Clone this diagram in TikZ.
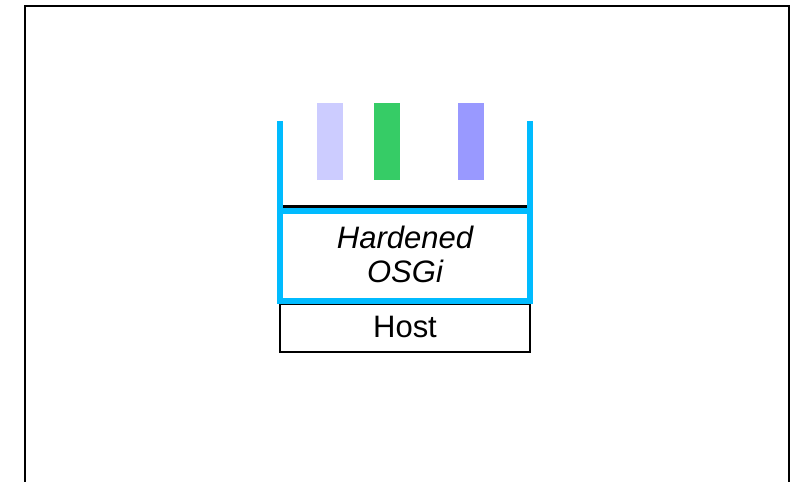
\documentclass[tikz,border=0pt]{standalone}
\usepackage{fontspec}
\setmainfont{Liberation Sans}
\definecolor{frameblue}{RGB}{0,187,255}
\definecolor{barlight}{RGB}{204,204,255}
\definecolor{bargreen}{RGB}{54,204,102}
\definecolor{barviolet}{RGB}{153,153,255}
\tikzset{
  bundle/.style={draw=none, fill=#1, minimum width=26pt, minimum height=77pt, inner sep=0pt},
  layerbox/.style={draw=black, line width=1.8pt, minimum width=250pt, minimum height=48pt, inner sep=0pt},
  bigtext/.style={font=\fontsize{31}{34}\selectfont, inner sep=0pt, align=center},
}
\begin{document}
\begin{tikzpicture}[x=1pt, y=-1pt]
  \useasboundingbox (0,0) rectangle (796,482);
  % outer frame, open at the bottom
  \coordinate (fbl) at (25,482);
  \coordinate (ftl) at (25,6);
  \coordinate (ftr) at (789,6);
  \coordinate (fbr) at (789,482);
  \draw[line width=2pt, line join=miter] (fbl) -- (ftl) -- (ftr) -- (fbr);

  % bundles
  \node[bundle=barlight]  (b1) at (330,141.5) {};
  \node[bundle=bargreen]  (b2) at (387,141.5) {};
  \node[bundle=barviolet] (b3) at (471,141.5) {};

  % host layer
  \node[layerbox] (host) at (405,328) {};
  \node[bigtext] (hosttxt) at (405,327) {Host};

  % top of the framework layer
  \coordinate (tl) at (283,206.5);
  \coordinate (tr) at (527,206.5);
  \draw[line width=2.5pt] (tl) -- (tr);

  % hardened OSGi layer with its raised sides
  \coordinate (lt) at (280,121);
  \coordinate (lb) at (280,300.5);
  \coordinate (rt) at (530,121);
  \coordinate (rb) at (530,300.5);
  \coordinate (li) at (280,211);
  \coordinate (ri) at (530,211);
  \draw[frameblue, line width=6pt] (lt) -- (lb) -- (rb) -- (rt);
  \draw[frameblue, line width=6pt] (li) -- (ri);
  \node[bigtext] (osgi) at (405,254) {\itshape Hardened\\\itshape OSGi};
\end{tikzpicture}
\end{document}
